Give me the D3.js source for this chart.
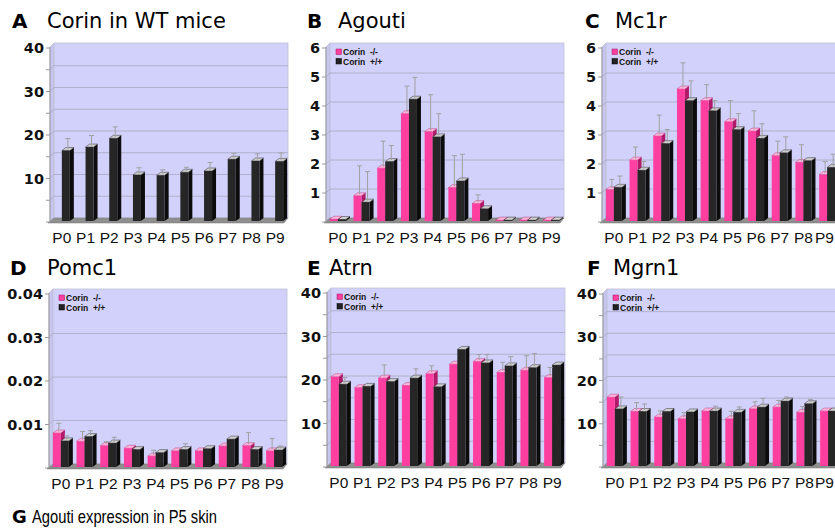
<!DOCTYPE html>
<html>
<head>
<meta charset="utf-8">
<title>Corin panels</title>
<style>
  body { margin: 0; background: #fff; }
  svg { display: block; }
  .tick { font-family: "DejaVu Sans", sans-serif; font-weight: bold; font-size: 14.5px; fill: #111; }
  .xlab { font-family: "Liberation Sans", Arial, sans-serif; font-size: 15.5px; fill: #111; }
  .ttl { font-family: "DejaVu Sans", sans-serif; font-size: 21px; fill: #000; }
  .ltr { font-family: "DejaVu Sans", sans-serif; font-weight: bold; font-size: 20px; fill: #000; }
  .leg { font-family: "Liberation Sans", Arial, sans-serif; font-weight: bold; font-size: 8.5px; fill: #111; }
</style>
</head>
<body>
<svg width="835" height="529"></svg>
<script src="https://cdn.jsdelivr.net/npm/d3@7"></script>
<script>
// categories
const cats = ["P0", "P1", "P2", "P3", "P4", "P5", "P6", "P7", "P8", "P9"]
const legendNames = ["Corin  -/-", "Corin  +/+"]

// A  Corin in WT mice (single series)
const corinWT    = [16.2, 17.0, 19.0, 10.6, 10.5, 11.2, 11.5, 14.2, 13.8, 13.7]
const corinWTErr = [18.6, 19.3, 21.3, 11.9, 11.4, 12.0, 13.1, 15.2, 15.1, 15.3]

// B  Agouti
const agoutiKO    = [0.06, 0.87, 1.82, 3.70, 3.08, 1.15, 0.60, 0.03, 0.03, 0.03]
const agoutiKOErr = [null, 1.85, 2.70, 4.60, 4.30, 2.20, 0.85, null, null, null]
const agoutiWT    = [0.05, 0.65, 2.05, 4.20, 2.90, 1.38, 0.42, 0.03, 0.03, 0.03]
const agoutiWTErr = [null, 1.65, 2.55, 4.90, 3.65, 2.25, null, null, null, null]

// C  Mc1r
const mc1rKO    = [1.08, 2.10, 2.93, 4.55, 4.15, 3.42, 3.10, 2.25, 2.02, 1.60]
const mc1rKOErr = [1.38, 2.50, 3.60, 5.40, 4.65, 4.10, 3.75, 2.70, 2.58, 2.00]
const mc1rWT    = [1.16, 1.75, 2.67, 4.15, 3.80, 3.15, 2.85, 2.35, 2.08, 1.85]
const mc1rWTErr = [1.50, 2.00, 3.10, 4.78, 4.10, 3.65, 3.30, 2.85, null, 2.25]

// D  Pomc1
const pomcKO    = [0.0078, 0.0059, 0.0049, 0.0043, 0.0025, 0.0037, 0.0037, 0.0048, 0.0049, 0.0037]
const pomcKOErr = [0.0097, 0.0078, 0.0055, null, 0.0035, null, null, null, 0.0076, 0.0062]
const pomcWT    = [0.0060, 0.0070, 0.0055, 0.0040, 0.0033, 0.0040, 0.0042, 0.0064, 0.0040, 0.0039]
const pomcWTErr = [0.0068, 0.0080, 0.0065, null, null, 0.0050, null, null, null, 0.0045]

// E  Atrn
const atrnKO    = [20.5, 18.0, 20.2, 18.5, 21.2, 23.4, 24.0, 21.5, 22.0, 20.3]
const atrnKOErr = [null, null, 22.9, null, 22.7, null, 25.3, 23.5, 25.0, 22.3]
const atrnWT    = [18.8, 18.3, 19.4, 20.2, 18.2, 26.8, 23.7, 23.0, 22.6, 23.2]
const atrnWTErr = [20.0, null, null, 22.0, null, null, 25.3, 24.8, 25.5, null]

// F  Mgrn1
const mgrnKO    = [15.9, 12.6, 11.3, 10.9, 12.7, 10.9, 13.2, 13.6, 12.4, 12.7]
const mgrnKOErr = [null, 14.3, 12.4, 12.0, null, 12.3, 14.5, 14.8, 13.4, null]
const mgrnWT    = [13.2, 12.6, 12.6, 12.5, 12.7, 12.4, 13.6, 15.0, 14.4, 12.7]
const mgrnWTErr = [15.6, 14.0, null, null, 13.5, 13.3, 15.3, 15.6, 15.0, null]

const panels = [
  { letter: "A", title: "Corin in WT mice", lx: 12, tx: 47, ty: 28, x0: 50, y0: 222, yTop: 48, max: 40, major: 10, minor: 5, fmt: d3.format("d"),
    series: [null, { v: corinWT, e: corinWTErr }], legend: false },
  { letter: "B", title: "Agouti", lx: 307, tx: 338, ty: 28, x0: 326, y0: 222, yTop: 48, max: 6, major: 1, minor: 1, fmt: d3.format("d"),
    series: [{ v: agoutiKO, e: agoutiKOErr }, { v: agoutiWT, e: agoutiWTErr }], legend: true },
  { letter: "C", title: "Mc1r", lx: 585, tx: 615, ty: 28, x0: 602, y0: 222, yTop: 48, max: 6, major: 1, minor: 1, fmt: d3.format("d"),
    series: [{ v: mc1rKO, e: mc1rKOErr }, { v: mc1rWT, e: mc1rWTErr }], legend: true },
  { letter: "D", title: "Pomc1", lx: 10, tx: 47, ty: 275, x0: 49, y0: 468, yTop: 294, max: 0.04, major: 0.01, minor: 0.01, fmt: d3.format(".2f"),
    series: [{ v: pomcKO, e: pomcKOErr }, { v: pomcWT, e: pomcWTErr }], legend: true },
  { letter: "E", title: "Atrn", lx: 307, tx: 329, ty: 275, x0: 327, y0: 467, yTop: 293, max: 40, major: 10, minor: 5, fmt: d3.format("d"),
    series: [{ v: atrnKO, e: atrnKOErr }, { v: atrnWT, e: atrnWTErr }], legend: true },
  { letter: "F", title: "Mgrn1", lx: 587, tx: 613, ty: 275, x0: 603, y0: 467, yTop: 294, max: 40, major: 10, minor: 5, fmt: d3.format("d"),
    series: [{ v: mgrnKO, e: mgrnKOErr }, { v: mgrnWT, e: mgrnWTErr }], legend: true }
]

// colours for the two series: front, side, top
const faces = [
  { front: "#ff3f9f", side: "#b01a68", top: "#ffb8dc" },
  { front: "#262626", side: "#0c0c0c", top: "#cfcfcf" }
]
const legendFill = ["#ff3f9f", "#222"]

const svg = d3.select("svg")
const dx = 4, dy = -3       // bar depth
const wx = 4, wy = -4       // wall depth
const W = 234
const svgW = 835

function poly(pts) { return "M" + pts.map(p => p.join(",")).join("L") + "Z" }

panels.forEach(p => {
  const g = svg.append("g")
  const y = d3.scaleLinear().domain([0, p.max]).range([p.y0, p.yTop])
  const x = d3.scaleBand().domain(cats).range([p.x0, p.x0 + 237])
  const nMinor = Math.round(p.max / p.minor)
  const minorVals = d3.range(1, nMinor + 1).map(i => +(i * p.minor).toFixed(6))
  const majorVals = d3.range(1, Math.round(p.max / p.major) + 1).map(i => +(i * p.major).toFixed(6))
  const top = y(p.max)

  // side wall
  g.append("path")
    .attr("d", poly([[p.x0, top - 1], [p.x0 + wx, top - 1 + wy], [p.x0 + wx, p.y0 + wy], [p.x0, p.y0]]))
    .attr("fill", "#c6c6ef").attr("stroke", "#b4b4cc").attr("stroke-width", 0.6)
  // back wall
  g.append("rect")
    .attr("x", p.x0 + wx).attr("y", top - 1 + wy)
    .attr("width", W).attr("height", p.y0 - top + 1)
    .attr("fill", "#d1d1fb").attr("stroke", "#c0c0d4").attr("stroke-width", 0.8)
  // gridlines on wall
  g.selectAll(".grid").data(minorVals.filter(v => v < p.max)).enter().append("path")
    .attr("d", v => `M${p.x0},${y(v)}L${p.x0 + wx},${y(v) + wy}L${p.x0 + wx + W},${y(v) + wy}`)
    .attr("fill", "none").attr("stroke", "#a8a8c2").attr("stroke-width", 0.8)
  // floor
  g.append("path")
    .attr("d", poly([[p.x0 - 2, p.y0 + 1], [p.x0 + W, p.y0 + 1], [p.x0 + W + wx, p.y0 + wy], [p.x0 + wx, p.y0 + wy]]))
    .attr("fill", "#8f8f8f").attr("stroke", "#777").attr("stroke-width", 0.5)

  // axis line and ticks
  g.append("line").attr("x1", p.x0).attr("x2", p.x0).attr("y1", p.y0).attr("y2", top - 1)
    .attr("stroke", "#999").attr("stroke-width", 1)
  g.selectAll(".tk").data([0].concat(minorVals)).enter().append("line")
    .attr("x1", p.x0 - 4).attr("x2", p.x0).attr("y1", d => y(d)).attr("y2", d => y(d))
    .attr("stroke", "#999").attr("stroke-width", 1)
  g.selectAll(".tl").data(majorVals).enter().append("text")
    .attr("class", "tick").attr("x", p.x0 - 6).attr("y", d => y(d) + 5.2)
    .attr("text-anchor", "end").text(p.fmt)

  // bars
  const bw = 8
  const base = p.y0 - 1
  const errs = []
  cats.forEach((c, i) => {
    const cx = x(c) + x.bandwidth() / 2
    p.series.forEach((s, k) => {
      if (!s) return
      const x1 = k === 0 ? cx - bw : cx, x2 = x1 + bw
      const yt = y(s.v[i]) - 1
      const f = faces[k]
      g.append("path").attr("d", poly([[x2, yt], [x2 + dx, yt + dy], [x2 + dx, base + dy], [x2, base]]))
        .attr("fill", f.side)
      g.append("path").attr("d", poly([[x1, yt], [x2, yt], [x2 + dx, yt + dy], [x1 + dx, yt + dy]]))
        .attr("fill", f.top).attr("stroke", f.side).attr("stroke-width", 0.4)
      g.append("rect").attr("x", x1).attr("y", yt).attr("width", bw).attr("height", base - yt)
        .attr("fill", f.front)
      if (s.e[i] != null) errs.push({ x: (x1 + x2) / 2 + dx / 2, y1: yt + dy / 2, y2: y(s.e[i]) - 1 + dy / 2 })
    })
  })
  g.selectAll(".err").data(errs).enter().append("path")
    .attr("d", d => `M${d.x},${d.y1}V${d.y2}M${d.x - 2.5},${d.y2}H${d.x + 2.5}`)
    .attr("fill", "none").attr("stroke", "#a0a0a0").attr("stroke-width", 1)

  // category labels (kept inside the page edge)
  g.selectAll(".xl").data(cats).enter().append("text")
    .attr("class", "xlab").attr("x", d => x(d) + x.bandwidth() / 2).attr("y", p.y0 + 21)
    .attr("text-anchor", "middle").text(d => d)
    .each(function () {
      const t = d3.select(this)
      const half = this.getComputedTextLength() / 2
      const cx = +t.attr("x")
      if (cx + half > svgW - 1) t.attr("x", svgW - 1 - half)
    })

  // legend
  if (p.legend) {
    legendNames.forEach((n, k) => {
      const ly = top + 4 + k * 9.5
      g.append("rect").attr("x", p.x0 + 10).attr("y", ly - 3).attr("width", 5.5).attr("height", 5.5)
        .attr("fill", legendFill[k]).attr("stroke", k === 0 ? "#a01060" : "#000").attr("stroke-width", 0.5)
      g.append("text").attr("class", "leg").attr("x", p.x0 + 17).attr("y", ly + 3).text(n)
        .attr("xml:space", "preserve").style("white-space", "pre")
    })
  }

  // title
  svg.append("text").attr("class", "ltr").attr("x", p.lx).attr("y", p.ty).text(p.letter)
  svg.append("text").attr("class", "ttl").attr("x", p.tx).attr("y", p.ty).text(p.title)
})

// panel G heading (narrow face)
svg.append("text").attr("class", "ltr").attr("x", 12).attr("y", 523).style("font-size", "18px").text("G")
svg.append("text").attr("x", 32).attr("y", 523)
  .style("font-family", "'Liberation Sans', Arial, sans-serif")
  .style("font-size", "19px")
  .attr("textLength", 185).attr("lengthAdjust", "spacingAndGlyphs")
  .text("Agouti expression in P5 skin")
</script>
</body>
</html>
